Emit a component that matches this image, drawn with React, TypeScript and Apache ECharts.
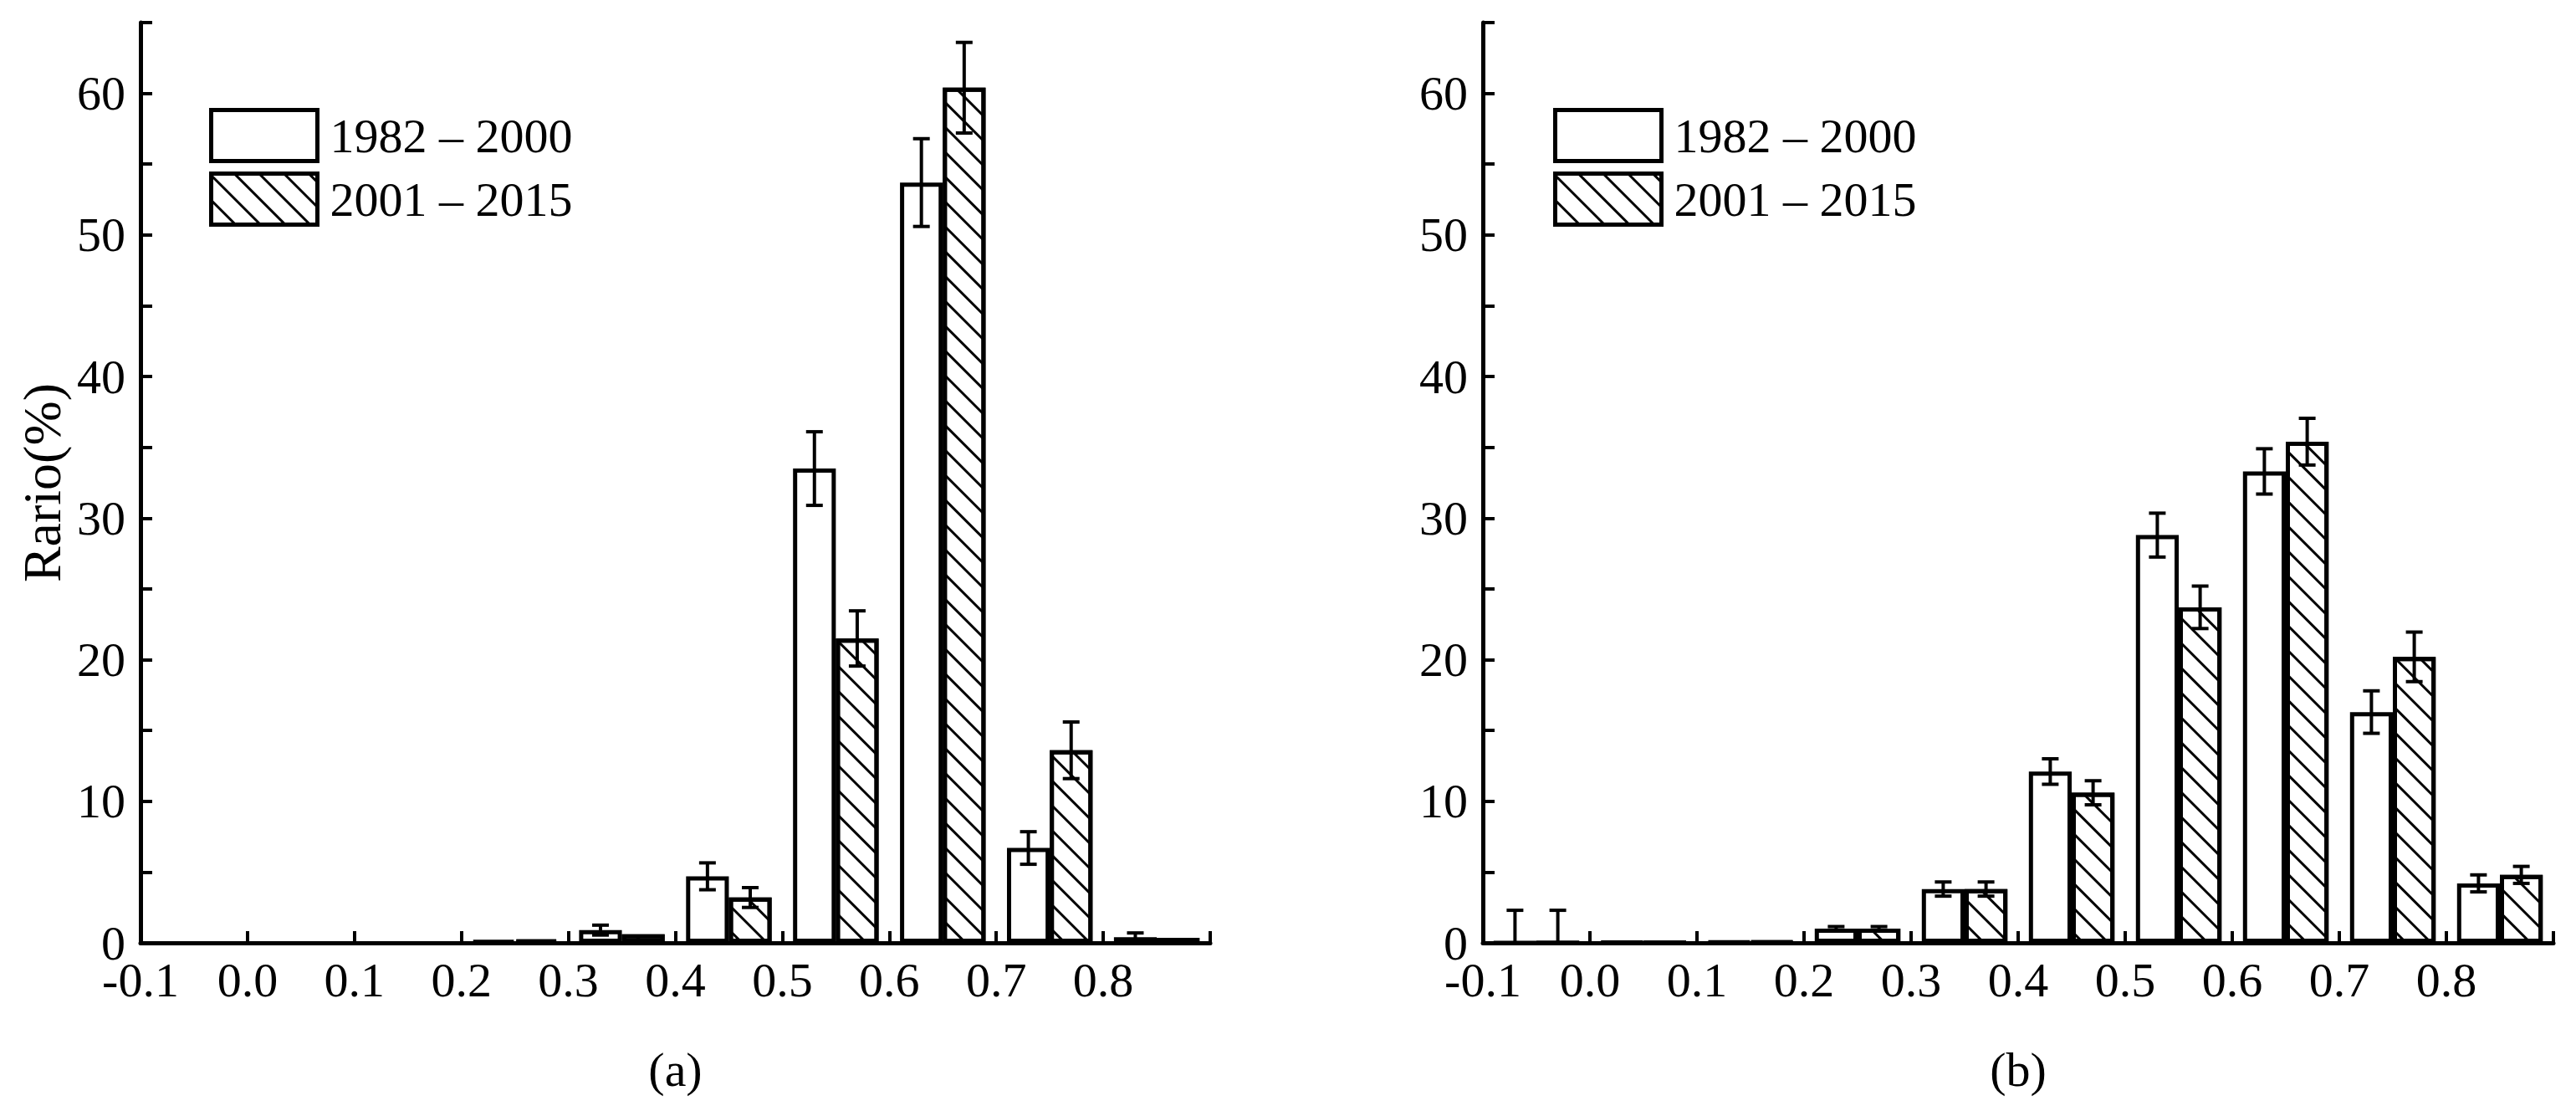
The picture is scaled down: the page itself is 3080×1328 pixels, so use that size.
import { useEffect, useRef } from 'react'
import * as echarts from 'echarts'

// bin starts of the histogram (each bin is 0.1 wide)
const bins = [-0.1, 0.0, 0.1, 0.2, 0.3, 0.4, 0.5, 0.6, 0.7, 0.8]
const seriesNames = ['1982 – 2000', '2001 – 2015']

// panel (a)
const aEarly = [null, null, null, 0.15, 0.9, 4.7, 33.5, 53.7, 6.7, 0.4]
const aEarlyErr = [null, null, null, null, 0.35, 0.95, 2.6, 3.1, 1.15, 0.3]
const aLate = [null, null, null, 0.2, 0.6, 3.2, 21.5, 60.4, 13.6, 0.35]
const aLateErr = [null, null, null, null, null, 0.7, 1.95, 3.2, 2.0, null]

// panel (b)
const bEarly = [0, 0.05, 0.08, 1.0, 3.8, 12.1, 28.8, 33.3, 16.3, 4.2]
const bEarlyErr = [2.3, null, null, 0.15, 0.5, 0.9, 1.55, 1.6, 1.5, 0.6]
const bLate = [0, 0.02, 0.08, 1.0, 3.8, 10.6, 23.7, 35.4, 20.2, 4.8]
const bLateErr = [2.3, null, null, 0.15, 0.5, 0.85, 1.5, 1.65, 1.75, 0.6]

const FONT = 'Liberation Serif'

const hatch = {
  symbol: 'rect',
  symbolSize: 1,
  color: '#000',
  dashArrayX: [1, 0],
  dashArrayY: [2.5, 18],
  rotation: Math.PI / 4,
}

function errData(vals: (number | null)[], errs: (number | null)[], offset: number) {
  const out: number[][] = []
  vals.forEach((v, i) => {
    const e = errs[i]
    if (v == null || e == null) return
    out.push([bins[i] + 0.05 + offset, v, e])
  })
  return out
}

const renderErr = (_params: any, api: any) => {
  const x = api.value(0)
  const y = api.value(1)
  const e = api.value(2)
  const top = api.coord([x, y + e])
  const bot = api.coord([x, y - e])
  const half = 10
  const style = { stroke: '#000', lineWidth: 4 }
  return {
    type: 'group',
    children: [
      { type: 'line', shape: { x1: top[0], y1: top[1], x2: bot[0], y2: bot[1] }, style },
      { type: 'line', shape: { x1: top[0] - half, y1: top[1], x2: top[0] + half, y2: top[1] }, style },
      { type: 'line', shape: { x1: bot[0] - half, y1: bot[1], x2: bot[0] + half, y2: bot[1] }, style },
    ],
  }
}

function valueXAxis(grid: number, name: string) {
  return {
    type: 'value',
    gridIndex: grid,
    min: -0.1,
    max: 0.9,
    interval: 0.1,
    name,
    nameLocation: 'middle',
    nameGap: 122,
    nameTextStyle: { fontFamily: FONT, fontSize: 58, color: '#000' },
    axisLine: { show: true, onZero: false, lineStyle: { color: '#000', width: 5 } },
    axisTick: { show: true, inside: true, length: 14, lineStyle: { color: '#000', width: 4 } },
    axisLabel: {
      fontFamily: FONT,
      fontSize: 58,
      color: '#000',
      margin: 22,
      lineHeight: 44,
      formatter: (v: number) => (v > 0.85 ? '' : v.toFixed(1)),
    },
    splitLine: { show: false },
  }
}

function catXAxis(grid: number) {
  return {
    type: 'category',
    gridIndex: grid,
    data: bins.map((b) => b.toFixed(1)),
    boundaryGap: true,
    show: false,
  }
}

function yAxis(grid: number, name: string) {
  return {
    type: 'value',
    gridIndex: grid,
    min: 0,
    max: 65,
    interval: 5,
    name,
    nameLocation: 'middle',
    nameRotate: 90,
    nameGap: 86,
    nameTextStyle: { fontFamily: FONT, fontSize: 64, color: '#000' },
    axisLine: { show: true, onZero: false, lineStyle: { color: '#000', width: 5 } },
    axisTick: { show: true, inside: true, length: 14, lineStyle: { color: '#000', width: 4 } },
    axisLabel: {
      fontFamily: FONT,
      fontSize: 58,
      color: '#000',
      margin: 18,
      lineHeight: 40,
      formatter: (v: number) => (v % 10 === 0 ? String(v) : ''),
    },
    splitLine: { show: false },
  }
}

function barSeries(name: string, xIdx: number, yIdx: number, data: (number | null)[], hatched: boolean) {
  return {
    name,
    type: 'bar',
    xAxisIndex: xIdx,
    yAxisIndex: yIdx,
    data,
    barWidth: '40%',
    barGap: '0%',
    itemStyle: {
      color: '#fff',
      borderColor: '#000',
      borderWidth: 5,
      ...(hatched ? { decal: hatch } : {}),
    },
  }
}

function errSeries(xIdx: number, yIdx: number, data: number[][]) {
  return {
    type: 'custom',
    xAxisIndex: xIdx,
    yAxisIndex: yIdx,
    clip: true,
    data,
    renderItem: renderErr,
    z: 5,
  }
}

function legend(left: number) {
  return {
    left,
    top: 124,
    orient: 'vertical',
    icon: 'rect',
    itemWidth: 127,
    itemHeight: 61,
    itemGap: 10,
    data: seriesNames,
    itemStyle: { borderColor: '#000', borderWidth: 5 },
    textStyle: { fontFamily: FONT, fontSize: 58, color: '#000', padding: [0, 0, 0, 10] },
    selectedMode: false,
  }
}

export default function App() {
  const chartRef = useRef<HTMLDivElement>(null)

  useEffect(() => {
    if (!chartRef.current) return
    const chart = echarts.init(chartRef.current, undefined, { renderer: 'svg' })

    const option = {
      animation: false,
      backgroundColor: '#fff',
      grid: [
        { left: 168, top: 27, width: 1279, height: 1100 },
        { left: 1773, top: 27, width: 1280, height: 1100 },
      ],
      legend: [legend(245), legend(1852)],
      xAxis: [valueXAxis(0, '(a)'), catXAxis(0), valueXAxis(1, '(b)'), catXAxis(1)],
      yAxis: [yAxis(0, 'Rario(%)'), yAxis(1, '')],
      series: [
        barSeries(seriesNames[0], 1, 0, aEarly, false),
        barSeries(seriesNames[1], 1, 0, aLate, true),
        errSeries(0, 0, errData(aEarly, aEarlyErr, -0.02)),
        errSeries(0, 0, errData(aLate, aLateErr, 0.02)),
        barSeries(seriesNames[0], 3, 1, bEarly, false),
        barSeries(seriesNames[1], 3, 1, bLate, true),
        errSeries(2, 1, errData(bEarly, bEarlyErr, -0.02)),
        errSeries(2, 1, errData(bLate, bLateErr, 0.02)),
      ],
    }

    chart.setOption(option as any)

    return () => {
      chart.dispose()
    }
  }, [])

  return (
    <div
      ref={chartRef}
      style={{ position: 'fixed', left: 0, top: 0, width: '3080px', height: '1328px' }}
    />
  )
}
